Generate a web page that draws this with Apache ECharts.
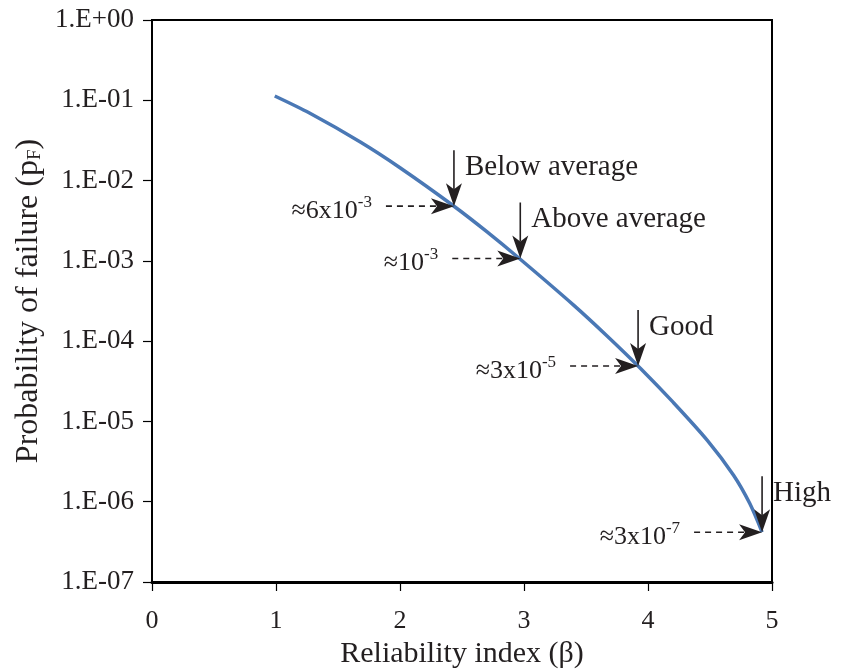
<!DOCTYPE html>
<html>
<head>
<meta charset="utf-8">
<script src="https://cdn.jsdelivr.net/npm/echarts@6/dist/echarts.min.js"></script>
<style>
  html, body { margin: 0; padding: 0; background: #fff; }
  #chart { width: 844px; height: 669px; }
</style>
</head>
<body>
<div id="chart"></div>
<script>
// ---- data ----
const betaValues = [0.99, 1.27, 1.68, 2.0, 2.43, 2.7, 2.97, 3.4, 3.67, 3.94, 4.2, 4.48, 4.69, 4.82, 4.92];
const pfValues   = [0.113, 0.0693, 0.0302, 0.01445, 0.00486, 0.00231, 0.001047, 2.81e-4, 1.16e-4, 4.57e-5, 1.75e-5, 5.78e-6, 2.14e-6, 9.55e-7, 4.17e-7];

const xTickLabels = ['0', '1', '2', '3', '4', '5'];
const yTickLabels = ['1.E+00', '1.E-01', '1.E-02', '1.E-03', '1.E-04', '1.E-05', '1.E-06', '1.E-07'];

const levelNames     = ['Below average', 'Above average', 'Good', 'High'];
const levelBeta      = [2.435, 2.97, 3.92, 4.92];
const levelPf        = [4.8e-3, 1.07e-3, 4.9e-5, 4.17e-7];
const approxMantissa = ['6x10', '10', '3x10', '3x10'];
const approxExponent = ['-3', '-3', '-5', '-7'];

const xAxisName = 'Reliability index (β)';
const yAxisNameMain = 'Probability of failure (p';
const yAxisNameSub = 'F';

// ---- chart ----
const FONT = "'Liberation Serif', 'DejaVu Serif', serif";
const INK = '#231f20';

const chart = echarts.init(document.getElementById('chart'), null, { renderer: 'canvas' });

const curveData = betaValues.map((b, i) => [b, pfValues[i]]);
const levelData = levelBeta.map((b, i) => [b, levelPf[i], i]);

function renderLevel(params, api) {
  const i = api.value(2);
  const p = api.coord([api.value(0), api.value(1)]);
  const x = p[0], y = p[1];
  const headLen = 23, headHalf = 8, notch = 6;
  return {
    type: 'group',
    children: [
      { type: 'line', shape: { x1: x - 68, y1: y, x2: x - headLen + notch, y2: y },
        style: { stroke: INK, lineWidth: 1.6, lineDash: [6, 5] } },
      { type: 'polygon', shape: { points: [[x, y], [x - headLen, y - headHalf], [x - headLen + notch, y], [x - headLen, y + headHalf]] },
        style: { fill: INK } },
      { type: 'line', shape: { x1: x, y1: y - 56, x2: x, y2: y - headLen + notch },
        style: { stroke: INK, lineWidth: 1.6 } },
      { type: 'polygon', shape: { points: [[x, y], [x - headHalf, y - headLen], [x, y - headLen + notch], [x + headHalf, y - headLen]] },
        style: { fill: INK } },
      { type: 'text', x: x + 11, y: y - 39,
        style: { text: levelNames[i], font: '29px ' + FONT, fill: INK, align: 'left', verticalAlign: 'middle' } },
      { type: 'text', x: x - 82, y: y + 3,
        style: {
          text: '{m|≈' + approxMantissa[i] + '}{s|' + approxExponent[i] + '}',
          align: 'right', verticalAlign: 'middle',
          rich: {
            m: { fontSize: 26, fontFamily: FONT, fill: INK, color: INK, verticalAlign: 'bottom', lineHeight: 30 },
            s: { fontSize: 17, fontFamily: FONT, fill: INK, color: INK, verticalAlign: 'top', lineHeight: 30 }
          }
        } }
    ]
  };
}

const option = {
  animation: false,
  backgroundColor: '#fff',
  grid: {
    left: 152, right: 72, top: 20, bottom: 87,
    outerBoundsMode: 'none', containLabel: false,
    show: true, borderColor: '#000', borderWidth: 2, backgroundColor: 'transparent'
  },
  xAxis: {
    type: 'value', min: 0, max: 5, interval: 1,
    name: xAxisName, nameLocation: 'middle', nameGap: 55,
    nameTextStyle: { fontFamily: FONT, fontSize: 30, color: INK },
    axisLine: { show: true, onZero: false, lineStyle: { color: '#000', width: 3 } },
    axisTick: { show: true, inside: false, length: 9, lineStyle: { color: '#000', width: 1.2 } },
    axisLabel: { margin: 26, fontFamily: FONT, fontSize: 26, color: INK,
      formatter: v => xTickLabels[Math.round(v)] },
    splitLine: { show: false }
  },
  yAxis: {
    type: 'log', logBase: 10, min: 1e-7, max: 1, interval: 1,
    name: '{m|' + yAxisNameMain + '}{s|' + yAxisNameSub + '}{m|)}',
    nameLocation: 'middle', nameGap: 105, nameRotate: 90,
    nameTextStyle: {
      fontFamily: FONT, fontSize: 32, color: INK,
      rich: {
        m: { fontFamily: FONT, fontSize: 32, color: INK },
        s: { fontFamily: FONT, fontSize: 19, color: INK, verticalAlign: 'bottom', padding: [10, 0, 0, 0] }
      }
    },
    axisLine: { show: true, onZero: false, lineStyle: { color: '#000', width: 2 } },
    axisTick: { show: true, inside: false, length: 9, lineStyle: { color: '#000', width: 1.2 } },
    axisLabel: { margin: 18, fontFamily: FONT, fontSize: 27, color: INK, padding: [7, 0, 0, 0],
      formatter: v => yTickLabels[Math.round(-Math.log10(v))] },
    splitLine: { show: false },
    minorTick: { show: false }
  },
  series: [
    {
      type: 'line', data: curveData, smooth: 0.3, showSymbol: false, symbol: 'none',
      lineStyle: { color: '#4a78b5', width: 3.5 }, z: 2
    },
    {
      type: 'custom', data: levelData, renderItem: renderLevel, clip: false, z: 3,
      encode: { x: 0, y: 1 }
    }
  ]
};
chart.setOption(option);
</script>
</body>
</html>
